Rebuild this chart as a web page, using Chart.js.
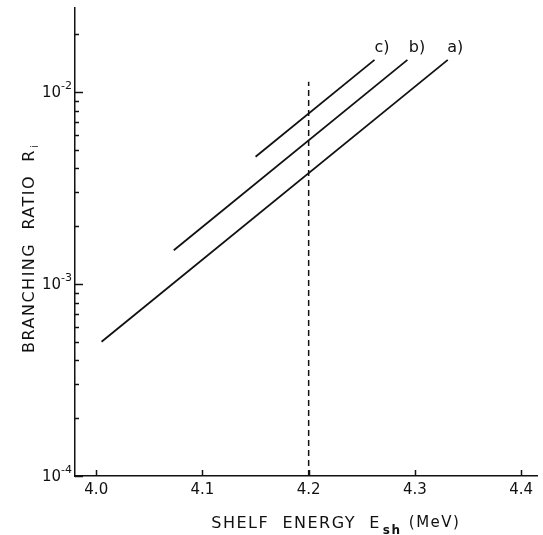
<!DOCTYPE html>
<html>
<head>
<meta charset="utf-8">
<script src="https://cdn.jsdelivr.net/npm/chart.js@4.4.0/dist/chart.umd.min.js"></script>
<style>
  html, body { margin: 0; padding: 0; background: #fff; }
  #wrap { width: 543px; height: 535px; }
</style>
</head>
<body>
<div id="wrap"><canvas id="ratioChart"></canvas></div>
<script>
// curves a), b), c): shelf energy (MeV) vs branching ratio
const curveNames = ['a)', 'b)', 'c)'];
const energyA = [4.005, 4.331];
const ratioA = [5.0e-4, 1.47e-2];
const energyB = [4.073, 4.293];
const ratioB = [1.5e-3, 1.47e-2];
const energyC = [4.150, 4.262];
const ratioC = [4.6e-3, 1.47e-2];
const labelEnergy = [4.338, 4.302, 4.269];
const labelRatio = [1.69e-2, 1.69e-2, 1.69e-2];

// dashed marker at E_sh = 4.2 MeV
const shelfEnergy = [4.2, 4.2];
const shelfRatio = [1e-4, 1.13e-2];

const xTicks = [4.0, 4.1, 4.2, 4.3, 4.4];
const xTickLabels = ['4.0', '4.1', '4.2', '4.3', '4.4'];
const yDecades = [1e-4, 1e-3, 1e-2];
const yTickExp = ['-4', '-3', '-2'];

const FONT = '"DejaVu Sans", sans-serif';

function toPoints(xs, ys) {
  return xs.map((v, i) => ({ x: v, y: ys[i] }));
}

const inkPlugin = {
  id: 'ink',
  afterDraw(chart) {
    const ctx = chart.ctx;
    const x = chart.scales.x;
    const y = chart.scales.y;
    ctx.save();
    ctx.strokeStyle = '#111';
    ctx.fillStyle = '#111';
    ctx.lineWidth = 1.5;

    // x ticks, pointing inwards
    xTicks.forEach(v => {
      const px = Math.round(x.getPixelForValue(v)) + 0.5;
      ctx.beginPath();
      ctx.moveTo(px, y.bottom);
      ctx.lineTo(px, y.bottom - 6);
      ctx.stroke();
    });
    ctx.font = '15px ' + FONT;
    ctx.textAlign = 'center';
    ctx.textBaseline = 'top';
    xTicks.forEach((v, i) => {
      ctx.fillText(xTickLabels[i], x.getPixelForValue(v), y.bottom + 7);
    });

    // y ticks: decades long, 2..9 short
    yDecades.forEach(d => {
      for (let k = 1; k <= 9; k++) {
        const v = d * k;
        if (v > y.max) break;
        const py = Math.round(y.getPixelForValue(v)) + 0.5;
        ctx.beginPath();
        ctx.moveTo(x.left, py);
        ctx.lineTo(x.left + (k === 1 ? 8 : 4), py);
        ctx.stroke();
      }
    });
    yDecades.forEach((d, i) => {
      const py = y.getPixelForValue(d);
      ctx.textAlign = 'right';
      ctx.textBaseline = 'alphabetic';
      ctx.font = '11px ' + FONT;
      const expW = ctx.measureText(yTickExp[i]).width;
      ctx.fillText(yTickExp[i], x.left - 3, py - 3);
      ctx.font = '15px ' + FONT;
      ctx.fillText('10', x.left - 3 - expW, py + 5);
    });

    // curve labels
    ctx.font = '16px ' + FONT;
    ctx.textAlign = 'center';
    ctx.textBaseline = 'middle';
    curveNames.forEach((name, i) => {
      ctx.fillText(name, x.getPixelForValue(labelEnergy[i]), y.getPixelForValue(labelRatio[i]));
    });

    // x title with subscript
    ctx.letterSpacing = '1.5px';
    ctx.textAlign = 'left';
    ctx.textBaseline = 'alphabetic';
    const partA = 'SHELF  ENERGY  E';
    const partB = 'sh';
    const partC = ' (MeV)';
    ctx.font = '16px ' + FONT;
    const wA = ctx.measureText(partA).width;
    const wC = ctx.measureText(partC).width;
    ctx.font = 'bold 12px ' + FONT;
    const wB = ctx.measureText(partB).width;
    let tx = 336 - (wA + wB + wC) / 2;
    ctx.font = '16px ' + FONT;
    ctx.fillText(partA, tx, 528);
    ctx.font = 'bold 12px ' + FONT;
    ctx.fillText(partB, tx + wA + 2, 534);
    ctx.font = '15px ' + FONT;
    ctx.fillText(partC, tx + wA + wB + 3, 527);

    // y title, rotated
    ctx.translate(34, 251);
    ctx.rotate(-Math.PI / 2);
    ctx.font = '16px ' + FONT;
    const yt = 'BRANCHING  RATIO  R';
    const wy = ctx.measureText(yt).width;
    ctx.fillText(yt, -wy / 2, 0);
    ctx.font = '10px ' + FONT;
    ctx.fillText('i', wy / 2 + 1, 4);
    ctx.restore();
  }
};

const lineStyle = {
  borderColor: '#111',
  borderWidth: 1.8,
  pointRadius: 0,
  showLine: true,
  fill: false
};

new Chart(document.getElementById('ratioChart'), {
  type: 'scatter',
  data: {
    datasets: [
      Object.assign({ label: curveNames[0], data: toPoints(energyA, ratioA) }, lineStyle),
      Object.assign({ label: curveNames[1], data: toPoints(energyB, ratioB) }, lineStyle),
      Object.assign({ label: curveNames[2], data: toPoints(energyC, ratioC) }, lineStyle),
      Object.assign({ label: '4.2 MeV', data: toPoints(shelfEnergy, shelfRatio) }, lineStyle,
        { borderWidth: 1.5, borderDash: [6, 4] })
    ]
  },
  options: {
    responsive: true,
    maintainAspectRatio: false,
    animation: false,
    devicePixelRatio: 1,
    layout: { padding: { top: 8, right: 6, left: 0, bottom: 0 } },
    plugins: {
      legend: { display: false },
      tooltip: { enabled: false }
    },
    scales: {
      x: {
        type: 'linear',
        min: 3.98,
        max: 4.415,
        grid: { display: false },
        border: { display: true, color: '#111', width: 1.5 },
        ticks: { display: false },
        afterFit: s => { s.height = 59; }
      },
      y: {
        type: 'logarithmic',
        min: 1e-4,
        max: 0.02738,
        grid: { display: false },
        border: { display: true, color: '#111', width: 1.5 },
        ticks: { display: false },
        afterFit: s => { s.width = 75; }
      }
    }
  },
  plugins: [inkPlugin]
});
</script>
</body>
</html>
